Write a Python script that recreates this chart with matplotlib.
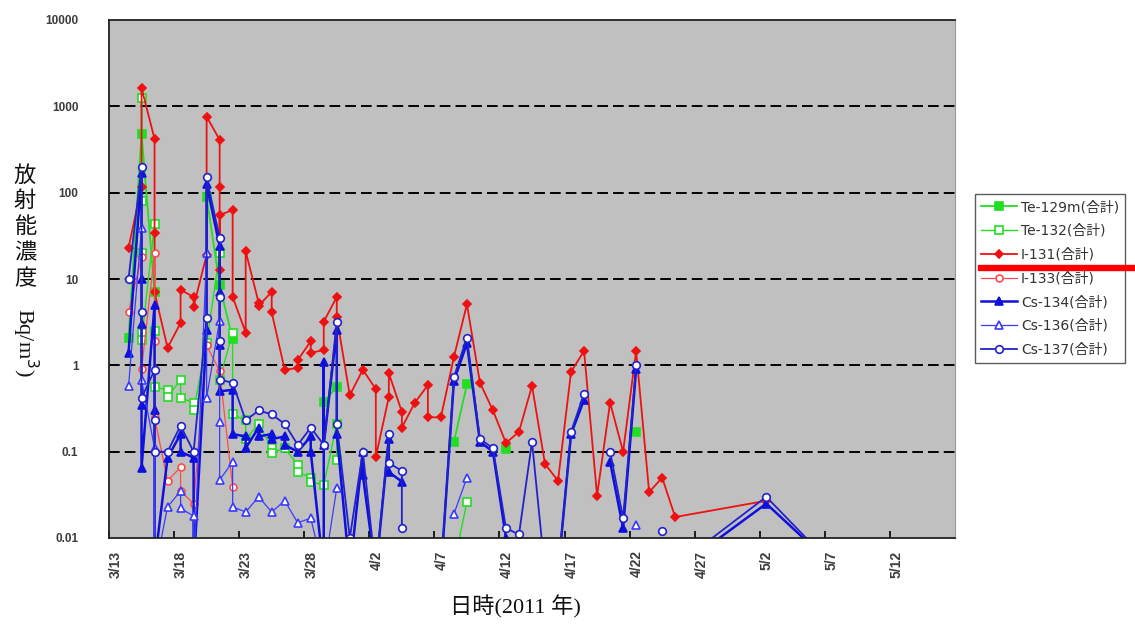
import numpy as np
import matplotlib.pyplot as plt
import matplotlib.transforms as mtransforms
from matplotlib.patches import Rectangle
from datetime import datetime, timedelta

plt.rcParams['font.family'] = ['DejaVu Sans', 'Noto Sans CJK JP']

nan = np.nan

# --- measurement series (date, Bq/m3); nan breaks the line ---
te129m_days = ['3/14', '3/15', '3/16', '3/17', '3/20', '3/21', '3/22', '3/23', '3/29', '3/30', '3/31',
               '4/8', '4/9', '4/10', '4/12', '4/13', '4/22']
te129m_vals = [2.1, 480, 7, nan, 90, 8.5, 2.0, nan, 0.38, 0.56, nan,
               0.13, 0.6, nan, 0.107, nan, 0.17]

te132_days = ['3/15', '3/15', '3/15', '3/15', '3/15', '3/16', '3/16', '3/16', '3/17', '3/17',
              '3/18', '3/18', '3/19', '3/19', '3/20', '3/21', '3/21', '3/22', '3/22', '3/23', '3/23',
              '3/24', '3/25', '3/25', '3/26', '3/27', '3/27', '3/28', '3/28', '3/29', '3/30', '3/30',
              '3/31', '4/8', '4/9']
te132_vals = [80, 1250, 20, 2.4, 1.95, 43, 2.5, 0.56, 0.52, 0.43,
              0.68, 0.42, 0.37, 0.30, 1.8, 20, 0.68, 2.4, 0.27, 0.23, 0.14,
              0.21, 0.11, 0.097, 0.11, 0.07, 0.058, 0.05, 0.045, 0.041, 0.21, 0.08,
              nan, 0.005, 0.026]

i131_days = ['3/14', '3/15', '3/15', '3/16', '3/16', '3/16', '3/17', '3/18', '3/18', '3/19', '3/19',
             '3/20', '3/20', '3/21', '3/21', '3/21', '3/21', '3/22', '3/22', '3/23', '3/23',
             '3/24', '3/24', '3/25', '3/25', '3/26', '3/27', '3/27', '3/28', '3/28', '3/29', '3/29',
             '3/30', '3/30', '3/31', '4/1', '4/2', '4/2', '4/3', '4/3', '4/4', '4/4', '4/5',
             '4/6', '4/6', '4/7', '4/8', '4/9', '4/10', '4/11', '4/12', '4/13', '4/14', '4/15',
             '4/16', '4/17', '4/18', '4/19', '4/20', '4/21', '4/22', '4/23', '4/24', '4/25', '5/2']
i131_vals = [23, 117, 1630, 420, 34, 7, 1.6, 3.1, 7.5, 6.2, 4.8,
             19, 760, 410, 117, 12.8, 55, 63, 6.2, 2.4, 21,
             5.3, 4.9, 7.1, 4.1, 0.89, 0.93, 1.15, 1.9, 1.4, 1.5, 3.2,
             6.2, 3.6, 0.45, 0.89, 0.53, 0.087, 0.43, 0.81, 0.29, 0.19, 0.37,
             0.59, 0.25, 0.25, 1.25, 5.1, 0.63, 0.30, 0.126, 0.17, 0.58, 0.072,
             0.046, 0.84, 1.47, 0.031, 0.37, 0.10, 1.47, 0.034, 0.05, 0.0175, 0.027]

i133_days = ['3/14', '3/15', '3/15', '3/16', '3/16', '3/16', '3/17', '3/18', '3/18', '3/19',
             '3/20', '3/21', '3/22']
i133_vals = [4.1, 18, 0.9, 20, 1.9, 0.25, 0.046, 0.066, 0.035, 0.025,
             1.7, 0.86, 0.039]

cs134_days = ['3/14', '3/15', '3/15', '3/15', '3/15', '3/15', '3/16', '3/16', '3/16', '3/17',
              '3/18', '3/18', '3/19', '3/19', '3/20', '3/20', '3/21', '3/21', '3/21', '3/21',
              '3/22', '3/22', '3/23', '3/23', '3/24', '3/24', '3/25', '3/25', '3/26', '3/26', '3/27',
              '3/28', '3/28', '3/29', '3/29', '3/29', '3/30', '3/30', '3/31', '4/1', '4/1', '4/2',
              '4/3', '4/3', '4/4', '4/5', '4/7', '4/8', '4/9', '4/10', '4/11', '4/12', '4/13',
              '4/14', '4/16', '4/17', '4/18', '4/19', '4/20', '4/21', '4/22', '4/23',
              '4/27', '5/2', '5/7']
cs134_vals = [1.4, 170, 10, 3.0, 0.35, 0.065, 5.0, 0.3, 0.005, 0.085,
              0.16, 0.1, 0.085, 0.004, 2.6, 125, 24, 7, 1.7, 0.5,
              0.52, 0.16, 0.15, 0.11, 0.19, 0.15, 0.16, 0.14, 0.15, 0.12, 0.1,
              0.15, 0.1, 0.004, 1.1, 0.12, 2.6, 0.16, 0.004, 0.1, 0.054, 0.004,
              0.14, 0.058, 0.045, nan, 0.004, 0.66, 1.8, 0.13, 0.1, 0.01, 0.009,
              nan, 0.004, 0.16, 0.4, nan, 0.076, 0.013, 0.9, nan,
              0.007, 0.025, 0.005]

cs136_days = ['3/14', '3/15', '3/15', '3/16', '3/16', '3/17', '3/18', '3/18', '3/19', '3/19',
              '3/20', '3/20', '3/21', '3/21', '3/21', '3/22', '3/22', '3/23', '3/24', '3/25',
              '3/26', '3/27', '3/28', '3/29', '3/30', '3/31', '4/8', '4/9', '4/10', '4/22']
cs136_vals = [0.57, 39, 0.68, 0.11, 0.004, 0.023, 0.035, 0.022, 0.018, 0.004,
              20, 0.42, 3.3, 0.22, 0.047, 0.076, 0.023, 0.02, 0.03, 0.02,
              0.027, 0.015, 0.017, 0.004, 0.038, nan, 0.019, 0.05, nan, 0.014]

cs137_days = ['3/14', '3/15', '3/15', '3/15', '3/16', '3/16', '3/16', '3/17', '3/18', '3/19',
              '3/20', '3/20', '3/21', '3/21', '3/21', '3/21', '3/22', '3/23', '3/24', '3/25',
              '3/26', '3/27', '3/28', '3/29', '3/30', '3/30', '3/31', '4/1', '4/2', '4/3', '4/3',
              '4/4', '4/4', '4/5', '4/7', '4/8', '4/9', '4/10', '4/11', '4/12', '4/13', '4/14',
              '4/15', '4/16', '4/17', '4/18', '4/19', '4/20', '4/21', '4/22', '4/23', '4/24',
              '4/25', '4/27', '5/2', '5/7']
cs137_vals = [10, 200, 4.1, 0.42, 0.88, 0.23, 0.1, 0.1, 0.2, 0.1,
              3.5, 150, 30, 6.2, 1.9, 0.68, 0.63, 0.23, 0.3, 0.27,
              0.21, 0.12, 0.19, 0.12, 3.2, 0.21, 0.01, 0.1, 0.004, 0.16, 0.074,
              0.06, 0.013, nan, 0.004, 0.73, 2.1, 0.14, 0.11, 0.013, 0.011, 0.13,
              0.004, 0.004, 0.17, 0.47, nan, 0.1, 0.017, 1.0, nan, 0.012,
              nan, 0.008, 0.03, 0.005]

tick_labels = ['3/13', '3/18', '3/23', '3/28', '4/2', '4/7', '4/12',
               '4/17', '4/22', '4/27', '5/2', '5/7', '5/12']
y_ticks = [0.01, 0.1, 1, 10, 100, 1000, 10000]
y_tick_labels = ['0.01', '0.1', '1', '10', '100', '1000', '10000']


def to_dt(s, hour=12):
    m, d = map(int, s.split('/'))
    return datetime(2011, m, d, hour)


series = [
    ('Te-129m(合計)', te129m_days, te129m_vals, dict(color='#22dd22', marker='s', mfc='#22dd22', ms=5.5, lw=1.3)),
    ('Te-132(合計)', te132_days, te132_vals, dict(color='#22dd22', marker='s', mfc='white', ms=5.5, lw=1.0)),
    ('I-131(合計)', i131_days, i131_vals, dict(color='#ee1111', marker='D', mfc='#ee1111', ms=4.5, lw=1.3)),
    ('I-133(合計)', i133_days, i133_vals, dict(color='#ff4a4a', marker='o', mfc='white', ms=5, lw=0.9)),
    ('Cs-134(合計)', cs134_days, cs134_vals, dict(color='#1010dd', marker='^', mfc='#1010dd', ms=6, lw=1.8)),
    ('Cs-136(合計)', cs136_days, cs136_vals, dict(color='#3a3aff', marker='^', mfc='white', ms=6, lw=0.9)),
    ('Cs-137(合計)', cs137_days, cs137_vals, dict(color='#2222cc', marker='o', mfc='white', ms=5.5, lw=1.3)),
]

fig = plt.figure(figsize=(11.35, 6.28), dpi=100)
ax = fig.add_axes([109 / 1135, 1 - 538 / 628, 846 / 1135, 518 / 628])
ax.set_facecolor('#c0c0c0')

for name, days, vals, style in series:
    x = [to_dt(d) for d in days]
    ax.plot(x, vals, label=name, mew=1.2, mec=style['color'], **style)

ax.set_yscale('log')
ax.set_ylim(0.01, 10000)
ax.set_xlim(datetime(2011, 3, 13), datetime(2011, 5, 17))

ax.set_yticks(y_ticks)
ax.set_yticklabels(y_tick_labels, fontsize=8.5, fontweight='bold', color='#3c3c3c',
                   family=['Liberation Sans', 'DejaVu Sans'])
ax.yaxis.set_minor_locator(plt.NullLocator())
ax.tick_params(axis='y', length=0, pad=22)

x_ticks = [datetime(2011, 3, 13) + timedelta(days=5 * i) for i in range(len(tick_labels))]
ax.set_xticks(x_ticks)
ax.set_xticklabels(tick_labels, rotation=90, fontsize=10, fontweight='bold', color='#3c3c3c',
                   family=['Liberation Sans', 'DejaVu Sans'])
ax.tick_params(axis='x', direction='in', length=5, width=1.2, pad=9)
shift = mtransforms.ScaledTranslation(7 / 100, 0, fig.dpi_scale_trans)
for lab in ax.get_xticklabels():
    lab.set_transform(lab.get_transform() + shift)

# dashed decade lines
for v in [0.1, 1, 10, 100, 1000]:
    ax.axhline(v, color='black', lw=1.4, ls=(0, (5.5, 2.6)), zorder=0.5)

for side in ['left', 'bottom', 'top']:
    ax.spines[side].set_color('#222222')
    ax.spines[side].set_linewidth(1.3)
ax.spines['right'].set_color('#9a9a9a')
ax.spines['right'].set_linewidth(0.8)

# axis titles
ykw = dict(family=['Liberation Serif', 'Noto Sans CJK JP'], fontsize=16, color='#111111')
for i, ch in enumerate('放射能濃度'):
    fig.text(25 / 1135, 1 - (176 + 26 * i) / 628, ch, ha='center', va='center', **ykw)
fig.text(25 / 1135, 1 - 342 / 628, 'Bq/m$^3$)', rotation=-90, ha='center', va='center', **ykw)
fig.text(515 / 1135, 1 - 607 / 628, '日時(2011 年)', ha='center', va='center',
         family=['Liberation Serif', 'Noto Sans CJK JP'], fontsize=16, color='#111111')

leg = fig.legend(loc='upper left', bbox_to_anchor=(975 / 1135, 1 - 194 / 628),
                 borderaxespad=0, fontsize=10, frameon=True, fancybox=False,
                 edgecolor='#333333', handlelength=2.6, labelspacing=0.7,
                 borderpad=0.45, handletextpad=0.25)
leg.get_frame().set_linewidth(1.0)
for t in leg.get_texts():
    t.set_color('#333333')

# red marker bar across the legend
fig.patches.append(Rectangle((978 / 1135, 1 - 270 / 628), 157 / 1135, 5 / 628,
                             transform=fig.transFigure, color='#ff0000', zorder=10))

fig.savefig('out.png', dpi=100)
